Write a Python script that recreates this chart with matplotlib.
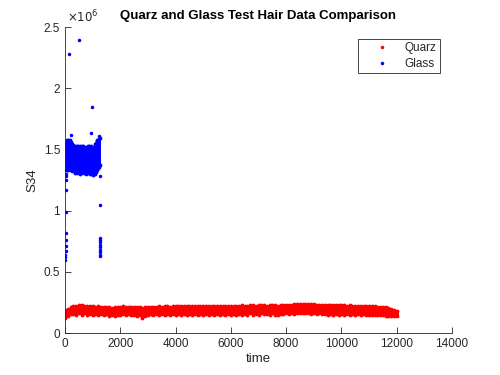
import numpy as np
import matplotlib
matplotlib.use("Agg")
import matplotlib.pyplot as plt
from matplotlib.ticker import FuncFormatter

plt.rcParams['font.family'] = ['Liberation Sans', 'DejaVu Sans']

# Quarz run: band of S34 values (x1e3) sampled every 100 time units, 0..12000
quarz_time = np.arange(0, 12001, 100)
quarz_upper = [185, 200, 214, 220, 222, 226, 225, 224, 221, 219, 222,
               216, 219, 215, 213, 211, 209, 207, 213, 214, 216,
               217, 215, 214, 216, 213, 212, 210, 207, 212, 214,
               215, 216, 215, 217, 216, 218, 217, 216, 218, 219,
               218, 219, 220, 219, 221, 220, 219, 221, 222, 220,
               219, 221, 222, 221, 223, 222, 221, 223, 224, 222,
               223, 224, 223, 225, 224, 223, 225, 226, 224, 225,
               226, 225, 224, 226, 227, 225, 224, 226, 228, 229,
               230, 232, 234, 236, 238, 240, 239, 237, 235, 233,
               232, 230, 229, 230, 228, 227, 228, 226, 225, 226,
               225, 224, 225, 223, 222, 223, 221, 222, 220, 219,
               218, 217, 215, 214, 212, 210, 207, 200, 190, 178]
quarz_lower = [120, 135, 155, 157, 145, 160, 147, 161, 150, 155, 145,
               157, 143, 155, 147, 153, 140, 145, 135, 150, 143,
               155, 145, 153, 143, 151, 141, 145, 125, 135, 147,
               153, 143, 155, 145, 153, 147, 155, 143, 153, 147,
               155, 145, 157, 147, 155, 149, 157, 145, 155, 150,
               157, 147, 155, 143, 157, 150, 155, 147, 159, 151,
               157, 145, 159, 151, 157, 147, 160, 151, 157, 149,
               160, 153, 157, 147, 161, 151, 145, 159, 153, 161,
               155, 163, 157, 165, 160, 167, 161, 165, 157, 163,
               155, 161, 153, 159, 151, 157, 149, 155, 151, 157,
               150, 155, 149, 157, 147, 153, 145, 153, 147, 151,
               145, 150, 143, 147, 145, 141, 140, 138, 136, 135]

# Glass run: band of S34 values (x1e3) sampled every 25 time units, 50..1250
glass_time = np.arange(50, 1251, 25)
glass_upper = [1560, 1575, 1580, 1570, 1565, 1575, 1560, 1555, 1545, 1540,
               1530, 1520, 1525, 1510, 1500, 1515, 1525, 1530, 1510, 1520,
               1525, 1505, 1515, 1530, 1525, 1510, 1500, 1515, 1520, 1505,
               1510, 1525, 1515, 1530, 1520, 1510, 1525, 1520, 1505, 1510,
               1520, 1530, 1545, 1555, 1565, 1575, 1580, 1585, 1590]
glass_lower = [1340, 1335, 1330, 1345, 1350, 1360, 1340, 1330, 1320, 1330,
               1345, 1320, 1310, 1330, 1345, 1315, 1305, 1325, 1340, 1320,
               1300, 1310, 1330, 1345, 1320, 1305, 1315, 1335, 1320, 1300,
               1310, 1330, 1320, 1305, 1295, 1310, 1325, 1300, 1290, 1300,
               1320, 1310, 1300, 1315, 1330, 1340, 1350, 1360, 1370]

# Glass points outside the main band
glass_out_time = [156, 495, 977, 930, 228, 1240, 1250, 1250,
                  1250, 1250, 1250, 1250, 1250, 1250, 1250, 1250, 1250,
                  40, 35, 30, 30, 30, 25, 20, 20, 20, 20, 15, 15, 15]
glass_out_val = [2280, 2390, 1850, 1630, 1620, 1610, 1285, 1046,
                 780, 760, 740, 720, 700, 680, 660, 640, 630,
                 1300, 1330, 1280, 1250, 1170, 990, 820, 760, 710, 670, 640, 620, 600]

s = 1e3
txt = '#262626'

fig = plt.figure(figsize=(5, 3.75), dpi=100)
ax = fig.add_axes([0.13, 0.112, 0.774, 0.816])

# quarz band
ax.vlines(quarz_time, np.array(quarz_lower) * s, np.array(quarz_upper) * s,
          color='red', linewidth=2.2)
ax.plot(quarz_time, np.array(quarz_upper) * s, '.', color='red', ms=3.5)
ax.plot(quarz_time, np.array(quarz_lower) * s, '.', color='red', ms=3.5)

# glass band
ax.vlines(glass_time, np.array(glass_lower) * s, np.array(glass_upper) * s,
          color='blue', linewidth=1.4)
ax.plot(glass_time, np.array(glass_upper) * s, '.', color='blue', ms=3.5)
ax.plot(glass_time, np.array(glass_lower) * s, '.', color='blue', ms=3.5)
ax.plot(glass_out_time, np.array(glass_out_val) * s, '.', color='blue', ms=3)

# legend handles
ax.plot([], [], '.', color='red', ms=3, label='Quarz')
ax.plot([], [], '.', color='blue', ms=3, label='Glass')
leg = ax.legend(loc='upper right', fontsize=8.5, fancybox=False, framealpha=1,
                edgecolor=txt, handlelength=3.5, handletextpad=0.2,
                borderaxespad=1.0, borderpad=0.3, labelspacing=0.3)
leg.get_frame().set_linewidth(0.6)
for t in leg.get_texts():
    t.set_color(txt)

ax.set_xlim(0, 14000)
ax.set_ylim(0, 2.5e6)
ax.set_xticks(np.arange(0, 14001, 2000))
ax.set_yticks(np.arange(0, 2.51e6, 0.5e6))
ax.yaxis.set_major_formatter(FuncFormatter(lambda v, p: '%g' % (v / 1e6)))
ax.text(0.005, 1.005, r'$\times10^{6}$', transform=ax.transAxes, fontsize=8.5,
        color=txt, va='bottom', ha='left')

for side in ['top', 'right']:
    ax.spines[side].set_visible(False)
for side in ['left', 'bottom']:
    ax.spines[side].set_color(txt)
    ax.spines[side].set_linewidth(0.6)
ax.tick_params(direction='in', length=4, width=0.6, colors=txt, labelsize=8.5)

ax.set_xlabel('time', fontsize=9.5, color=txt, labelpad=2)
ax.set_ylabel('S34', fontsize=9.5, color=txt)
ax.set_title('Quarz and Glass Test Hair Data Comparison', fontsize=9.5,
             fontweight='bold', color='black', pad=6)

fig.savefig('out.png', dpi=100)
